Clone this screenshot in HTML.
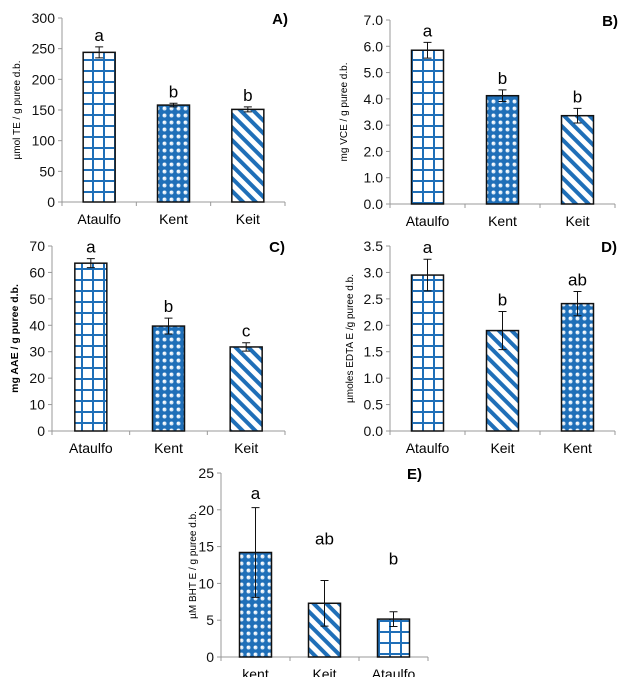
<!DOCTYPE html>
<html><head><meta charset="utf-8"><style>
body{margin:0;background:#fff;width:623px;height:677px;overflow:hidden}
svg text{font-family:"Liberation Sans",sans-serif}
</style></head><body>
<svg id="c" width="623" height="677" xmlns="http://www.w3.org/2000/svg">
<defs>
<pattern id="grid" width="11" height="11" patternUnits="userSpaceOnUse">
<rect width="11" height="11" fill="#fff"/>
<path d="M5 0V11M0 5H11" stroke="#1f6fb8" stroke-width="2"/>
</pattern>
<pattern id="dots" width="7" height="7" patternUnits="userSpaceOnUse">
<rect width="7" height="7" fill="#1f6fb8"/>
<circle cx="3.5" cy="3.5" r="2" fill="#d8e8f6"/>
<circle cx="3" cy="3" r="1" fill="#fff"/>
</pattern>
<pattern id="stripe" width="9" height="9" patternUnits="userSpaceOnUse" patternTransform="rotate(-45)">
<rect width="9" height="9" fill="#fff"/>
<rect width="4" height="9" fill="#1f6fb8"/>
</pattern>
</defs>
</svg>
<script>
// Panel A
const catsA=["Ataulfo","Kent","Keit"], valsA=[244,158,151], errA=[9,3,4], letA=["a","b","b"], patA=["grid","dots","stripe"], ticksA=["0","50","100","150","200","250","300"];
// Panel B
const catsB=["Ataulfo","Kent","Keit"], valsB=[5.85,4.12,3.36], errB=[0.3,0.22,0.28], letB=["a","b","b"], patB=["grid","dots","stripe"], ticksB=["0.0","1.0","2.0","3.0","4.0","5.0","6.0","7.0"];
// Panel C
const catsC=["Ataulfo","Kent","Keit"], valsC=[63.5,39.7,31.8], errC=[1.7,3,1.6], letC=["a","b","c"], patC=["grid","dots","stripe"], ticksC=["0","10","20","30","40","50","60","70"];
// Panel D
const catsD=["Ataulfo","Keit","Kent"], valsD=[2.95,1.9,2.41], errD=[0.3,0.36,0.23], letD=["a","b","ab"], patD=["grid","stripe","dots"], ticksD=["0.0","0.5","1.0","1.5","2.0","2.5","3.0","3.5"];
// Panel E
const catsE=["kent","Keit","Ataulfo"], valsE=[14.2,7.3,5.15], errE=[6.1,3.1,1.0], letE=["a","ab","b"], letPosE=[21.5,15.3,12.6], patE=["dots","stripe","grid"], ticksE=["0","5","10","15","20","25"];

const NS="http://www.w3.org/2000/svg", svg=document.getElementById('c');
function mk(t,a,p){const e=document.createElementNS(NS,t);for(const k in a)e.setAttribute(k,a[k]);(p||svg).appendChild(e);return e;}

function panel(id,cfg,cats,vals,errs,lets,pats,ticks,letPos){
  const g=mk('g',{});
  
  
  const max=parseFloat(ticks[ticks.length-1]);
  const y=v=>cfg.y0-(v/max)*(cfg.y0-cfg.yTop);
  const ax=mk('line',{x1:cfg.ax,y1:cfg.yTop,x2:cfg.ax,y2:cfg.y0,stroke:'#999'},g);
  
  const bx=mk('line',{x1:cfg.ax,y1:cfg.y0,x2:cfg.right,y2:cfg.y0,stroke:'#999'},g);
  
  const slot=(cfg.right-cfg.ax)/cats.length;
  for(let i=0;i<=cats.length;i++){mk('line',{x1:cfg.ax+i*slot,y1:cfg.y0,x2:cfg.ax+i*slot,y2:cfg.y0+4,stroke:'#999'},g);}
  ticks.forEach(t=>{const v=parseFloat(t);
    mk('line',{x1:cfg.ax-4,y1:y(v),x2:cfg.ax,y2:y(v),stroke:'#999'},g);
    const tx=mk('text',{x:cfg.ax-7,y:y(v)+5,'text-anchor':'end','font-size':14,fill:'#111'},g);tx.textContent=t;
    });
  cats.forEach((c,i)=>{
    const cx=cfg.ax+slot*(i+0.5), w=32;
    const r=mk('rect',{x:cx-w/2,y:y(vals[i]),width:w,height:cfg.y0-y(vals[i]),fill:'url(#'+pats[i]+')',stroke:'#111','stroke-width':1.5},g);
    
    const t=y(vals[i]+errs[i]), b=y(vals[i]-errs[i]);
    const eb=mk('path',{d:`M${cx} ${t}V${b}M${cx-4} ${t}H${cx+4}M${cx-4} ${b}H${cx+4}`,stroke:'#111',fill:'none'},g);
    
    const ly=letPos?y(letPos[i]):t-6;
    const lt=mk('text',{x:cx,y:ly,'text-anchor':'middle','font-size':17},g);lt.textContent=lets[i];
    
    const xl=mk('text',{x:cx,y:cfg.y0+22,'text-anchor':'middle','font-size':14},g);xl.textContent=c;
    
  });
  const ti=mk('text',{x:cfg.tx,y:cfg.yTop+6,'text-anchor':'end','font-size':15,'font-weight':'bold'},g);ti.textContent=id+')';
  
  const yl=mk('text',{x:0,y:0,'text-anchor':'middle','font-size':cfg.lfs||10,'font-weight':cfg.lb?'bold':'normal',transform:`translate(${cfg.lx},${(cfg.yTop+cfg.y0)/2}) rotate(-90)`},g);yl.textContent=cfg.label;
  
}
panel('A',{ax:62,right:285,y0:202,yTop:18,tx:288,lx:20,label:'µmol TE / g puree d.b.'},catsA,valsA,errA,letA,patA,ticksA);
panel('B',{ax:390,right:615,y0:204,yTop:20,tx:618,lx:347,label:'mg VCE / g puree d.b.'},catsB,valsB,errB,letB,patB,ticksB);
panel('C',{ax:52,right:285,y0:431,yTop:246,tx:285,lx:18,label:'mg AAE / g puree d.b.',lb:true,lfs:10.5},catsC,valsC,errC,letC,patC,ticksC);
panel('D',{ax:390,right:615,y0:431,yTop:246,tx:617,lx:353,label:'µmoles EDTA E /g puree d.b.'},catsD,valsD,errD,letD,patD,ticksD);
panel('E',{ax:221,right:428,y0:657,yTop:473,tx:422,lx:196,label:'µM BHT E / g puree d.b.'},catsE,valsE,errE,letE,patE,ticksE,letPosE);
</script>
</body></html>
